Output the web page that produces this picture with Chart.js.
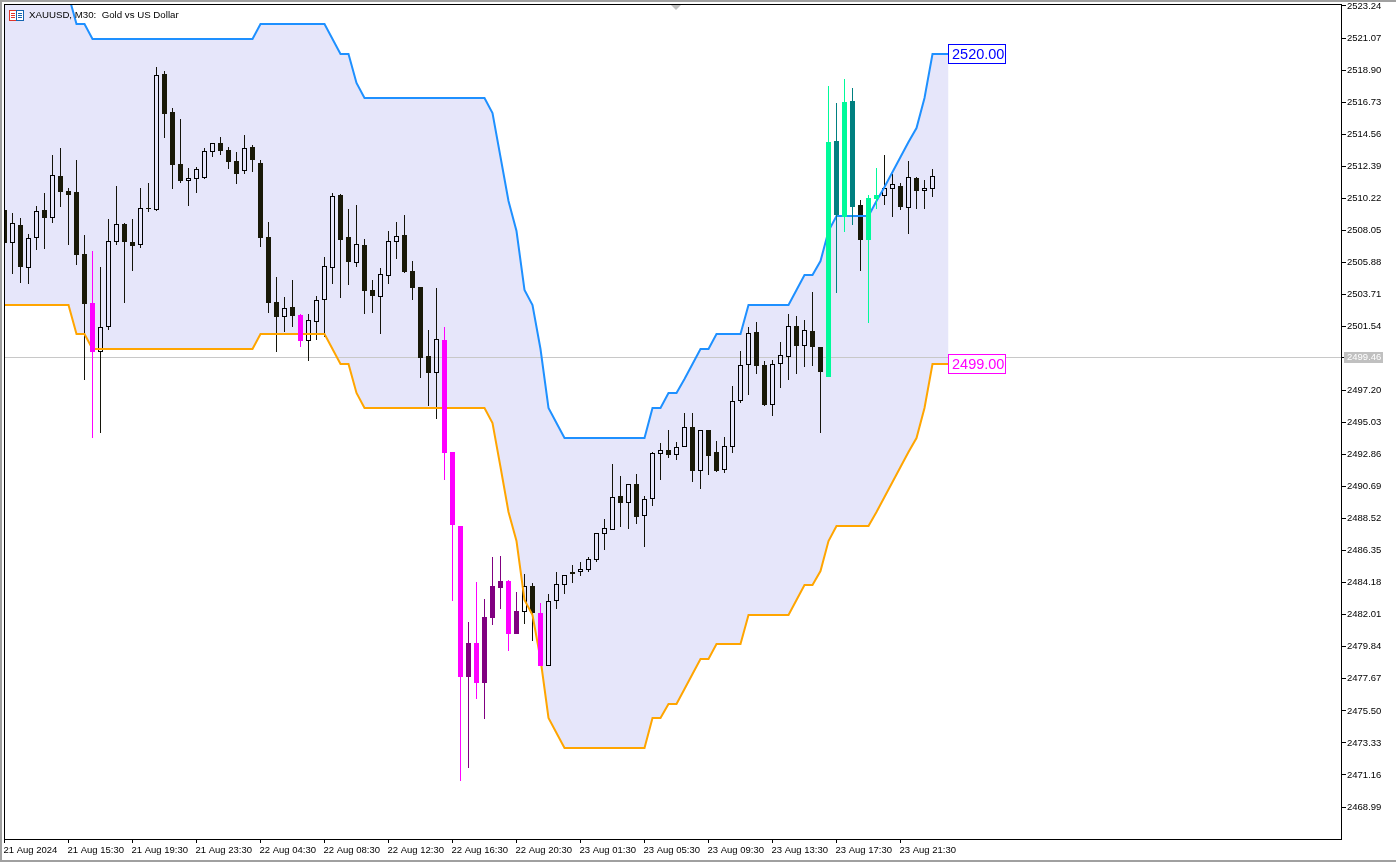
<!DOCTYPE html>
<html>
<head>
<meta charset="utf-8">
<script src="https://cdn.jsdelivr.net/npm/chart.js@4/dist/chart.umd.min.js"></script>
<style>html,body{margin:0;padding:0;background:#fff;overflow:hidden}canvas{display:block}</style>
</head>
<body>
<canvas id="c" width="1396" height="862"></canvas>
<script>
const chartTitle = "XAUUSD, M30:  Gold vs US Dollar";
const opens = [2509.42,2507.19,2508.41,2505.50,2507.53,2509.42,2508.88,2511.73,2510.71,2510.65,2506.45,2503.12,2499.81,2501.50,2507.26,2508.48,2507.26,2507.06,2509.56,2509.42,2518.64,2516.07,2512.54,2511.39,2511.53,2511.59,2513.36,2513.96,2513.49,2512.75,2512.07,2513.69,2512.61,2507.60,2503.19,2502.18,2502.86,2502.32,2500.55,2501.84,2503.33,2505.50,2510.44,2507.60,2505.84,2507.06,2504.01,2503.53,2504.96,2507.26,2507.73,2505.29,2504.21,2499.54,2498.39,2500.62,2493.03,2488.02,2477.80,2480.10,2477.39,2481.79,2483.82,2484.30,2480.71,2482.20,2483.96,2482.13,2478.55,2482.94,2484.03,2484.91,2484.91,2485.04,2485.72,2487.48,2487.75,2490.06,2489.58,2490.87,2488.70,2489.85,2492.90,2493.17,2492.83,2493.38,2494.73,2491.75,2494.53,2493.04,2491.82,2493.38,2496.49,2498.93,2501.16,2498.93,2496.22,2499.00,2499.47,2501.57,2500.22,2501.23,2500.15,2498.12,2514.10,2508.95,2516.81,2509.76,2507.39,2510.17,2510.37,2510.85,2511.05,2509.56,2511.59,2510.71,2510.85];
const closes = [2507.19,2508.54,2505.57,2507.53,2509.36,2508.88,2511.80,2510.65,2510.44,2506.38,2503.06,2499.81,2501.50,2507.33,2508.48,2507.26,2506.99,2509.56,2509.49,2518.57,2515.93,2512.47,2511.39,2511.59,2512.20,2513.42,2513.96,2513.42,2512.68,2511.87,2513.63,2512.81,2507.53,2503.12,2502.18,2502.79,2502.25,2500.55,2501.98,2503.33,2505.63,2510.37,2507.39,2505.91,2507.12,2503.94,2503.60,2505.09,2507.33,2507.67,2505.23,2504.14,2499.40,2498.39,2500.69,2492.97,2488.08,2477.80,2480.10,2477.39,2481.86,2483.96,2484.30,2480.71,2482.27,2483.96,2482.13,2478.55,2482.94,2484.09,2484.70,2484.77,2485.11,2485.79,2487.55,2487.89,2489.99,2489.58,2490.87,2488.63,2489.85,2492.97,2493.17,2492.83,2493.38,2494.73,2491.75,2494.53,2492.77,2491.75,2493.44,2496.49,2498.93,2501.10,2498.86,2496.22,2499.00,2499.61,2501.57,2500.22,2501.30,2500.15,2498.46,2514.03,2509.09,2516.74,2509.63,2507.39,2510.24,2510.44,2510.92,2511.19,2509.63,2511.66,2510.71,2510.92,2511.73];
const highs = [2509.42,2509.22,2508.88,2507.80,2509.69,2510.57,2513.15,2513.63,2510.92,2512.81,2507.73,2506.65,2505.57,2508.82,2511.05,2508.54,2508.82,2510.92,2511.26,2519.11,2518.84,2516.34,2515.59,2512.27,2512.34,2513.63,2513.96,2514.37,2513.69,2513.36,2514.51,2513.83,2512.81,2508.61,2504.89,2503.53,2504.69,2502.38,2502.38,2503.60,2506.25,2510.57,2510.51,2509.49,2509.76,2507.46,2504.69,2505.50,2508.00,2508.61,2509.09,2505.97,2504.21,2501.30,2504.14,2501.50,2493.03,2488.02,2481.52,2484.23,2483.08,2485.93,2485.99,2484.37,2483.55,2484.77,2484.16,2482.81,2483.42,2484.91,2484.70,2485.38,2485.59,2485.93,2487.55,2488.50,2492.22,2491.41,2490.87,2491.54,2490.06,2493.04,2493.65,2494.53,2493.71,2495.68,2495.68,2494.53,2494.53,2493.78,2494.05,2497.51,2499.88,2501.50,2501.84,2499.20,2499.27,2500.49,2502.38,2502.25,2501.98,2503.87,2500.15,2517.83,2516.67,2518.30,2517.69,2510.10,2510.44,2512.27,2513.15,2511.87,2511.26,2512.75,2511.66,2511.46,2512.20];
const lows = [2507.19,2505.09,2504.48,2504.41,2506.72,2506.79,2508.54,2509.63,2507.06,2505.70,2497.92,2493.98,2494.32,2501.30,2507.06,2503.12,2505.29,2506.85,2509.29,2509.36,2514.30,2510.85,2511.26,2509.69,2510.57,2511.53,2513.02,2513.15,2512.20,2511.19,2511.87,2512.00,2506.92,2502.45,2499.81,2501.16,2501.50,2500.15,2499.20,2500.62,2500.83,2504.41,2503.47,2504.35,2505.57,2502.38,2502.45,2501.03,2504.41,2506.11,2505.16,2503.33,2498.05,2496.15,2495.27,2491.14,2482.94,2470.75,2471.63,2476.31,2474.95,2481.32,2482.40,2479.56,2480.71,2481.39,2480.24,2478.55,2478.55,2482.40,2483.42,2484.16,2484.64,2484.91,2485.59,2486.40,2487.75,2487.95,2487.82,2488.16,2486.60,2489.38,2491.14,2492.63,2492.49,2493.38,2491.00,2490.53,2491.48,2491.68,2491.61,2492.97,2496.35,2496.90,2498.32,2496.15,2495.48,2497.37,2497.92,2498.32,2498.79,2498.86,2494.32,2498.12,2503.81,2507.94,2508.41,2505.29,2501.77,2509.49,2509.76,2508.95,2509.42,2507.80,2509.49,2509.49,2510.31];
const upperBand = [2524,2524,2524,2524,2524,2524,2524,2524,2524,2522,2522,2521,2521,2521,2521,2521,2521,2521,2521,2521,2521,2521,2521,2521,2521,2521,2521,2521,2521,2521,2521,2521,2522,2522,2522,2522,2522,2522,2522,2522,2522,2521,2520,2520,2518,2517,2517,2517,2517,2517,2517,2517,2517,2517,2517,2517,2517,2517,2517,2517,2517,2516,2513,2510,2508,2504,2503,2500,2496,2495,2494,2494,2494,2494,2494,2494,2494,2494,2494,2494,2494,2496,2496,2497,2497,2498,2499,2500,2500,2501,2501,2501,2501,2503,2503,2503,2503,2503,2503,2504,2505,2505,2506,2508,2509,2509,2509,2509,2509,2510,2511,2512,2513,2514,2515,2517,2520,2520,2520];
const lowerBand = [2503,2503,2503,2503,2503,2503,2503,2503,2503,2501,2501,2500,2500,2500,2500,2500,2500,2500,2500,2500,2500,2500,2500,2500,2500,2500,2500,2500,2500,2500,2500,2500,2501,2501,2501,2501,2501,2501,2501,2501,2501,2500,2499,2499,2497,2496,2496,2496,2496,2496,2496,2496,2496,2496,2496,2496,2496,2496,2496,2496,2496,2495,2492,2489,2487,2483,2482,2479,2475,2474,2473,2473,2473,2473,2473,2473,2473,2473,2473,2473,2473,2475,2475,2476,2476,2477,2478,2479,2479,2480,2480,2480,2480,2482,2482,2482,2482,2482,2482,2483,2484,2484,2485,2487,2488,2488,2488,2488,2488,2489,2490,2491,2492,2493,2494,2496,2499,2499,2499];
const strongDown = [11,37,55,56,57,59,63,67];
const weakUp = [58,60,61,62,64];
const strongUp = [103,105,108,109];
const weakDown = [104,106];
const yTicks = [2523.24,2521.07,2518.90,2516.73,2514.56,2512.39,2510.22,2508.05,2505.88,2503.71,2501.54,2497.20,2495.03,2492.86,2490.69,2488.52,2486.35,2484.18,2482.01,2479.84,2477.67,2475.50,2473.33,2471.16,2468.99];
const xTickBars = [0,8,16,24,32,40,48,56,64,72,80,88,96,104,112];
const xTickLabels = ["21 Aug 2024","21 Aug 15:30","21 Aug 19:30","21 Aug 23:30","22 Aug 04:30","22 Aug 08:30","22 Aug 12:30","22 Aug 16:30","22 Aug 20:30","23 Aug 01:30","23 Aug 05:30","23 Aug 09:30","23 Aug 13:30","23 Aug 17:30","23 Aug 21:30"];
const bidPrice = 2499.46;
const upperTag = 2520.00;
const lowerTag = 2499.00;

const FONT = '9.5px "Liberation Sans"';
const tone = i => strongDown.includes(i) ? '#ff00ff' : weakUp.includes(i) ? '#800080'
  : strongUp.includes(i) ? '#00fa9a' : weakDown.includes(i) ? '#008080' : null;
const isBull = i => closes[i] >= opens[i];
const DARK = '#191908';
const allIdx = opens.map((_, i) => i);
const plainIdx = allIdx.filter(i => !tone(i));
const colorIdx = allIdx.filter(i => tone(i));

const wickColor = c => c.raw ? (tone(c.raw.x) || '#14140a') : '#000';
const bodyFill = c => c.raw ? (tone(c.raw.x) || (isBull(c.raw.x) ? 'rgba(0,0,0,0)' : DARK)) : '#000';
const bodyEdge = c => c.raw ? (tone(c.raw.x) || (isBull(c.raw.x) ? '#000' : DARK)) : '#000';

function candleSets(idx, order) {
  const base = {type:'bar', grouped:false, barPercentage:1, categoryPercentage:1, inflateAmount:0, order};
  return [
    {...base, maxBarThickness:1, backgroundColor:wickColor, borderWidth:0,
      data: idx.map(i => ({x:i, y:[Math.max(opens[i],closes[i]), highs[i]]}))},
    {...base, maxBarThickness:1, backgroundColor:wickColor, borderWidth:0,
      data: idx.map(i => ({x:i, y:[lows[i], Math.min(opens[i],closes[i])]}))},
    {...base, maxBarThickness:5, backgroundColor:bodyFill, borderColor:bodyEdge, borderWidth:1, borderSkipped:false,
      data: idx.map(i => ({x:i, y:[opens[i], closes[i]]}))}
  ];
}

const crispPlugin = {
  id:'crisp',
  afterDatasetsUpdate(chart) {
    chart.data.datasets.forEach((d, n) => {
      const meta = chart.getDatasetMeta(n);
      meta.data.forEach(el => {
        el.y = Math.round(el.y);
        if (d.type === 'bar') { el.base = Math.round(el.base); el.x = Math.floor(el.x) + 0.5; }
      });
    });
  }
};

function tag(ctx, x, y, text, color) {
  ctx.save();
  const top = Math.round(y) - 10;
  ctx.fillStyle = '#fff';
  ctx.fillRect(x, top, 58, 20);
  ctx.strokeStyle = color; ctx.lineWidth = 1;
  ctx.strokeRect(x + 0.5, top + 0.5, 57, 19);
  ctx.fillStyle = color;
  ctx.font = '14.5px "Liberation Sans"';
  ctx.textBaseline = 'middle'; ctx.textAlign = 'left';
  ctx.fillText(text, x + 4, top + 10.5);
  ctx.restore();
}

const decor = {
  id:'decor',
  beforeDatasetsDraw(chart) {
    const {ctx, chartArea:a, scales:{y}} = chart;
    const py = Math.round(y.getPixelForValue(bidPrice));
    ctx.save();
    ctx.fillStyle = '#c8c8c8';
    ctx.fillRect(a.left, py, a.right - a.left, 1);
    ctx.restore();
  },
  afterDraw(chart) {
    const {ctx, chartArea:a, scales:{x, y}} = chart;
    ctx.save();
    ctx.strokeStyle = '#000'; ctx.lineWidth = 1;
    ctx.strokeRect(a.left + 0.5, a.top + 0.5, a.right - a.left, a.bottom - a.top);

    // price tags at the end of the band
    const endX = Math.floor(x.getPixelForValue(upperBand.length - 1));
    tag(ctx, endX, y.getPixelForValue(upperTag), upperTag.toFixed(2), '#0000ff');
    tag(ctx, endX, y.getPixelForValue(lowerTag), lowerTag.toFixed(2), '#ff00ff');

    // bid box on the axis
    const py = Math.round(y.getPixelForValue(bidPrice));
    ctx.fillStyle = '#000';
    ctx.fillRect(a.right, py, 4, 1);
    ctx.fillStyle = '#c0c0c0';
    ctx.fillRect(a.right + 3, py - 5, 39, 11);
    ctx.fillStyle = '#fff';
    ctx.font = FONT; ctx.textBaseline = 'middle'; ctx.textAlign = 'left';
    ctx.fillText(bidPrice.toFixed(2), a.right + 6, py + 0.5);

    // chart-shift marker
    ctx.fillStyle = '#c0c0c0';
    ctx.beginPath(); ctx.moveTo(671, a.top + 1); ctx.lineTo(681, a.top + 1); ctx.lineTo(676, a.top + 6); ctx.closePath(); ctx.fill();

    // title icon and text
    ctx.fillStyle = '#fff';
    ctx.fillRect(9, 10, 15, 11);
    ctx.strokeStyle = '#e0352b';
    ctx.strokeRect(9.5, 10.5, 7, 10);
    ctx.fillStyle = '#e0352b';
    ctx.fillRect(11, 13, 4, 1); ctx.fillRect(11, 15, 4, 1); ctx.fillRect(11, 17, 4, 1);
    ctx.strokeStyle = '#1565b0';
    ctx.strokeRect(16.5, 10.5, 7, 10);
    ctx.fillStyle = '#1565b0';
    ctx.fillRect(18, 13, 4, 1); ctx.fillRect(18, 15, 4, 1); ctx.fillRect(18, 17, 4, 1);
    ctx.fillStyle = '#000';
    ctx.font = '9.7px "Liberation Sans"'; ctx.textBaseline = 'middle'; ctx.textAlign = 'left';
    ctx.fillText(chartTitle, 29, 15.5);

    // window frame
    ctx.fillStyle = '#a0a0a0';
    ctx.fillRect(0, 0, 1396, 2); ctx.fillRect(0, 0, 2, 862); ctx.fillRect(0, 860, 1396, 2);
    ctx.restore();
  }
};

const lineStyle = {type:'line', pointRadius:0, borderWidth:2, tension:0, borderJoinStyle:'miter', order:3};

new Chart(document.getElementById('c'), {
  type:'line',
  data:{datasets:[
    ...candleSets(plainIdx, 5),
    {...lineStyle, borderColor:'#1e90ff', backgroundColor:'#e6e6fa', fill:'+1',
      data: upperBand.map((v,i) => ({x:i, y:v}))},
    {...lineStyle, borderColor:'#ffa500', fill:false,
      data: lowerBand.map((v,i) => ({x:i, y:v}))},
    ...candleSets(colorIdx, 1)
  ]},
  plugins:[crispPlugin, decor],
  options:{
    responsive:false, animation:false, events:[],
    layout:{padding:{left:4, top:4, right:0, bottom:0}},
    plugins:{legend:{display:false}, tooltip:{enabled:false}, title:{display:false},
      filler:{drawTime:'beforeDatasetsDraw'}},
    scales:{
      x:{type:'linear', position:'bottom', offset:false, min:-0.0625, max:167.0625,
        afterBuildTicks(s){ s.ticks = xTickBars.map(v => ({value:v})); },
        afterFit(s){ s.height = 23; s.paddingLeft = 0; s.paddingRight = 0; },
        border:{display:false},
        grid:{drawOnChartArea:false, drawTicks:true, tickLength:4, color:'#000', offset:false},
        ticks:{autoSkip:false, maxRotation:0, minRotation:0, align:'start', padding:2, labelOffset:-1, color:'#000',
          font:{family:'Liberation Sans', size:9.5},
          callback:v => xTickLabels[xTickBars.indexOf(v)]}},
      y:{type:'linear', position:'right', min:2466.823, max:2523.375,
        afterBuildTicks(s){ s.ticks = yTicks.map(v => ({value:v})); },
        afterFit(s){ s.width = 55; s.paddingTop = 0; s.paddingBottom = 0; },
        border:{display:false},
        grid:{drawOnChartArea:false, drawTicks:true, tickLength:5, color:'#000'},
        ticks:{autoSkip:false, padding:1, color:'#000', crossAlign:'near',
          font:{family:'Liberation Sans', size:9.5},
          callback:v => v.toFixed(2)}}
    }
  }
});
</script>
</body>
</html>
